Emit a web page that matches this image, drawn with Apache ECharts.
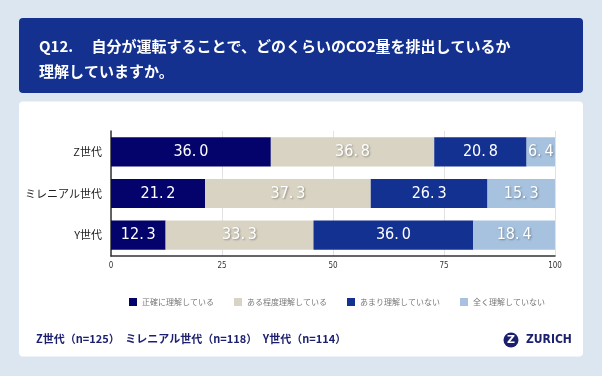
<!DOCTYPE html>
<html>
<head>
<meta charset="utf-8">
<script src="https://cdn.jsdelivr.net/npm/echarts@6/dist/echarts.min.js"></script>
<style>
  html, body { margin: 0; padding: 0; background: #dce6f1; }
  #chart { width: 602px; height: 376px; }
</style>
</head>
<body>
<div id="chart"></div>
<script>
// データ
const categories = ['Z世代', 'ミレニアル世代', 'Y世代'];
const seriesNames = ['正確に理解している', 'ある程度理解している', 'あまり理解していない', '全く理解していない'];
const accurate = [36.0, 21.2, 12.3];
const somewhat = [36.8, 37.3, 33.3];
const notMuch = [20.8, 26.3, 36.0];
const notAtAll = [6.4, 15.3, 18.4];
const xTicks = [0, 25, 50, 75, 100];
const sampleNote = 'Z世代（n=125）　ミレニアル世代（n=118）　Y世代（n=114）';

const colors = ['#03036b', '#d8d3c3', '#133191', '#a6c2df'];
const numFont = "'DejaVu Sans Condensed', 'Liberation Sans Narrow', sans-serif";
const jpFont = "'Noto Sans CJK JP', sans-serif";

const chart = echarts.init(document.getElementById('chart'));

const makeSeries = (name, data, color, shadow) => ({
  name: name,
  type: 'bar',
  stack: 'total',
  barWidth: '70%',
  data: data,
  itemStyle: { color: color },
  label: {
    show: true,
    position: 'inside',
    color: '#fff',
    fontFamily: numFont,
    fontSize: 16,
    formatter: p => p.value.toFixed(1).replace('.', '.\u2009'),
    textShadowColor: shadow ? 'rgba(0,0,0,0.35)' : 'transparent',
    textShadowBlur: shadow ? 2 : 0,
    textShadowOffsetX: shadow ? 1 : 0,
    textShadowOffsetY: shadow ? 1 : 0
  },
  emphasis: { disabled: true }
});

const options = {
  backgroundColor: '#dce6f1',
  animation: false,
  graphic: [
    {
      type: 'rect', z: -10,
      shape: { x: 19, y: 18, width: 564, height: 75, r: 4 },
      style: { fill: '#14318f' }
    },
    {
      type: 'text', z: 10, left: 39, top: 34,
      style: {
        text: 'Q12.　 自分が運転することで、どのくらいのCO2量を排出しているか\n理解していますか。',
        fill: '#fff',
        font: "bold 15px 'Noto Sans CJK JP', sans-serif",
        lineHeight: 25
      }
    },
    {
      type: 'rect', z: -10,
      shape: { x: 19, y: 101.5, width: 564, height: 255, r: 4 },
      style: { fill: '#ffffff' }
    },
    {
      type: 'text', z: 10, left: 36, top: 333,
      style: {
        text: sampleNote,
        fill: '#1b1f6e',
        font: "bold 11px 'Noto Sans CJK JP', sans-serif"
      }
    },
    {
      type: 'circle', z: 10,
      shape: { cx: 511, cy: 340, r: 7.5 },
      style: { fill: '#1b1f6e' }
    },
    {
      type: 'text', z: 11,
      style: {
        x: 511, y: 340, text: 'Z', fill: '#fff',
        align: 'center', verticalAlign: 'middle',
        font: "bold 11px 'DejaVu Sans', sans-serif"
      }
    },
    {
      type: 'text', z: 10,
      style: {
        x: 526, y: 340, text: 'ZURICH', fill: '#1b1f6e',
        verticalAlign: 'middle',
        font: "bold 12px 'DejaVu Sans Condensed', sans-serif"
      }
    }
  ],
  legend: {
    data: seriesNames,
    left: 124,
    top: 293,
    itemWidth: 8,
    itemHeight: 8,
    itemGap: 20,
    icon: 'rect',
    textStyle: { fontSize: 8, color: '#777', fontFamily: jpFont }
  },
  grid: { left: 111, right: 47, top: 131, height: 125 },
  xAxis: {
    type: 'value',
    min: xTicks[0],
    max: xTicks[xTicks.length - 1],
    interval: 25,
    axisLine: { show: true, lineStyle: { color: '#333', width: 1.5 } },
    axisTick: { show: false },
    axisLabel: { fontSize: 8, color: '#333', fontFamily: numFont, margin: 6 },
    splitLine: { show: true, lineStyle: { color: '#e2e2e2' } }
  },
  yAxis: {
    type: 'category',
    data: categories,
    inverse: true,
    axisLine: { show: true, lineStyle: { color: '#333', width: 1.5 } },
    axisTick: { show: false },
    axisLabel: { fontSize: 11, color: '#222', fontFamily: jpFont, margin: 9 }
  },
  series: [
    makeSeries(seriesNames[0], accurate, colors[0], false),
    makeSeries(seriesNames[1], somewhat, colors[1], true),
    makeSeries(seriesNames[2], notMuch, colors[2], false),
    makeSeries(seriesNames[3], notAtAll, colors[3], true)
  ]
};

chart.setOption(options);
</script>
</body>
</html>
